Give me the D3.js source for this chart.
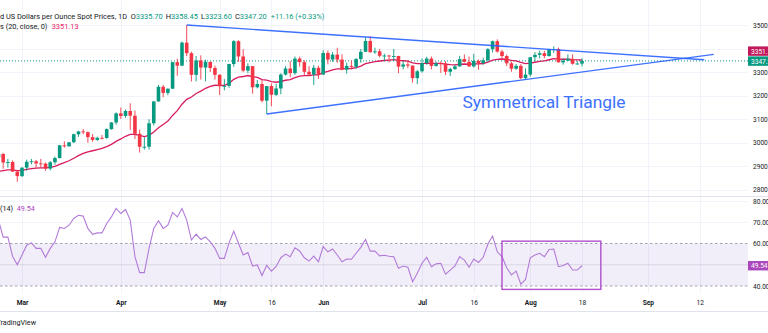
<!DOCTYPE html>
<html><head><meta charset="utf-8">
<script src="https://cdn.jsdelivr.net/npm/d3@7"></script>
<style>html,body{margin:0;padding:0;background:#fff;overflow:hidden}svg{display:block}text{font-family:Roboto,"Noto Sans",sans-serif}</style>
</head><body><svg id="c" width="768" height="333"></svg>
<script>
// ---- DATA (daily XAU/USD, first bar = Feb 24, index -5; Mar 3 = index 0) ----
const firstIndex = -5;
const opens = [
2936,2951,2915,2917,2876,2857,2893,2918,2920,2911,
2910,2889,2916,2934,2988,2984,3001,3035,3047,3044,
3023,3011,3020,3019,3057,3085,3124,3113,3134,3114,
3037,2982,2982,3082,3175,3237,3211,3229,3342,3327,
3425,3380,3288,3349,3319,3343,3317,3288,3239,3241,
3334,3431,3366,3306,3325,3235,3249,3178,3240,3203,
3230,3289,3315,3295,3357,3342,3301,3289,3318,3289,
3381,3353,3374,3353,3310,3326,3322,3355,3386,3432,
3384,3388,3369,3370,3368,3368,3323,3332,3327,3274,
3303,3338,3357,3326,3337,3336,3301,3313,3324,3355,
3343,3324,3347,3338,3350,3397,3431,3387,3368,3337,
3314,3326,3274,3289,3363,3373,3380,3368,3397,3398,
3341,3348,3356,3335,3335.70];
const highs = [
2956,2956,2930,2924,2882,2894,2927,2930,2926,2930,
2915,2921,2940,2990,3005,3001,3038,3050,3057,3047,
3036,3025,3032,3060,3087,3128,3149,3140,3167,3136,
3055,3023,3099,3175,3245,3245,3230,3343,3357,3430,
3500,3386,3368,3371,3352,3344,3327,3291,3270,3335,
3436,3435,3397,3337,3325,3266,3265,3240,3252,3250,
3295,3325,3346,3366,3365,3350,3325,3330,3326,3393,
3392,3385,3403,3375,3340,3349,3360,3398,3446,3452,
3403,3398,3378,3373,3398,3369,3346,3350,3329,3309,
3358,3365,3366,3343,3345,3346,3318,3330,3369,3375,
3366,3377,3353,3361,3402,3434,3439,3394,3374,3345,
3334,3334,3315,3363,3385,3391,3390,3398,3409,3404,
3358,3375,3375,3346,3358.45];
const lows = [
2930,2888,2893,2875,2833,2853,2880,2907,2893,2894,
2880,2881,2905,2932,2978,2982,2998,3024,3035,2999,
3003,3007,3013,3016,3054,3076,3100,3105,3054,3015,
2957,2970,2970,3073,3173,3193,3201,3228,3284,3325,
3367,3260,3260,3268,3260,3300,3268,3202,3222,3233,
3322,3343,3299,3295,3208,3230,3171,3121,3154,3198,
3205,3285,3278,3288,3323,3285,3285,3245,3271,3287,
3333,3343,3339,3307,3293,3312,3314,3340,3385,3383,
3377,3362,3347,3341,3347,3295,3312,3316,3255,3248,
3297,3331,3311,3323,3296,3287,3283,3308,3322,3341,
3321,3319,3310,3331,3344,3383,3382,3351,3325,3301,
3309,3268,3268,3280,3345,3358,3358,3365,3381,3341,
3331,3347,3331,3331,3323.60];
const closes = [
2951,2915,2917,2876,2857,2893,2918,2920,2911,2910,
2889,2916,2934,2988,2984,3001,3035,3047,3044,3023,
3011,3020,3019,3057,3085,3124,3113,3134,3114,3037,
2982,2982,3082,3175,3237,3211,3229,3342,3327,3425,
3380,3288,3349,3319,3343,3317,3288,3239,3241,3334,
3431,3366,3306,3325,3235,3249,3178,3240,3203,3230,
3289,3315,3295,3357,3342,3301,3289,3318,3289,3381,
3353,3374,3353,3310,3326,3322,3355,3386,3432,3384,
3388,3369,3370,3368,3368,3323,3332,3327,3274,3303,
3338,3357,3326,3337,3336,3301,3313,3324,3355,3343,
3324,3347,3338,3350,3397,3431,3387,3368,3337,3314,
3326,3274,3289,3363,3373,3380,3368,3397,3398,3341,
3348,3356,3335,3336,3347.20];
// 20-period moving average line
const maValues = [
2876.7,2880.3,2883.8,2883.1,2880.6,2881.8,2885.2,2888.5,2890.6,2892.4,
2892.1,2894.4,2898.2,2906.7,2914.1,2922.4,2933.1,2943.9,2953.4,2960.0,
2964.9,2970.1,2974.8,2982.6,2992.3,3004.8,3015.1,3026.4,3034.7,3034.9,
3029.9,3025.3,3030.7,3044.4,3062.7,3076.8,3091.3,3115.2,3135.4,3163.0,
3183.7,3193.6,3208.4,3218.9,3230.7,3238.9,3243.6,3243.2,3243.0,3251.7,
3268.8,3278.1,3280.8,3285.0,3280.2,3277.2,3267.8,3265.2,3259.3,3256.5,
3259.6,3264.9,3267.8,3276.3,3282.6,3284.4,3284.8,3288.0,3288.1,3296.9,
3302.2,3309.0,3313.2,3312.9,3314.1,3314.9,3318.7,3325.1,3335.3,3339.9,
3344.5,3346.8,3349.0,3350.8,3352.4,3349.6,3347.9,3345.9,3339.1,3335.7,
3335.9,3337.9,3336.8,3336.8,3336.7,3333.3,3331.4,3330.7,3333.0,3334.0,
3333.0,3334.3,3334.7,3336.2,3342.0,3350.5,3354.0,3355.3,3353.6,3349.8,
3347.5,3340.5,3335.6,3338.2,3341.5,3345.2,3347.4,3352.1,3356.5,3355.0,
3354.3,3354.5,3352.6,3351.4,3351.13];
const rsiValues = [
71,63,63,54,50,54.6,59.2,60.3,57.7,57.7,
53.5,57.7,60.8,67.6,67.1,68.6,71.8,73.3,72.9,67.1,
64.3,65,65,69.4,72.5,76.5,74.1,76,71,53.8,
46.3,46.3,57.7,67.1,70.7,67.1,68.6,74.6,72.5,76.5,
71,61.6,64.4,61.9,63.1,60.8,57.7,53,53,60.3,
65.8,60.1,54.6,55.7,49.4,49.9,44.9,49.7,47,49.2,
53.3,55,53.8,58,56.5,53.3,51.7,54.1,51.4,58.5,
56.1,57.4,54.6,51.4,52.7,52.6,55.4,58.2,61.9,56.4,
56.4,54.2,54.5,54,53.8,48.3,49.4,48.8,42,46,
50.7,53.5,49.1,50.4,50.7,45.6,47.5,49.4,53.8,52.2,
48.8,52.7,51.1,53.5,59.6,63.5,56.1,53.8,48.6,45.2,
47,40.8,43.1,53.3,54.6,55.4,53.8,57.2,57.4,49.1,
49.6,50.7,47.5,47.5,49.54];
const priceTicks = [2800,2900,3000,3100,3200,3300,3400,3500];
const rsiTicks = [40,50,60,70,80];
const timeTickLabels = ["Mar","Apr","May","16","Jun","Jul","16","Aug","18","Sep","12"];
const timeTickIndex  = [0,21,42,53,64,85,96,108,119,133,144];
const timeTickBold   = [true,true,true,false,true,true,false,true,false,true,false];
const trendUpper = [[35,3500],[145,3352]];
const trendLower = [[52,3121],[147,3375]];
const triangleLabel = {text:"Symmetrical Triangle", i:93.6, p:3148};
const rsiBox = {i0:102, i1:123, hi:61.1, lo:38.4};
const headerTitle = "d US Dollars per Ounce Spot Prices, 1D";
const ohlcLabels = ["O","H","L","C"];
const ohlcValues = ["3335.70","3358.45","3323.60","3347.20"];
const changeText = "+11.16 (+0.33%)";
const maTitle = "s (20, close, 0)", maLastText = "3351.13";
const rsiTitle = "(14)", rsiLastText = "49.54";

// ---- LAYOUT ----
const W = 768, axisX = 748;
const C_UP = "#089981", C_DN = "#f23645", C_TXT = "#131722", C_MA = "#d81b60",
      C_RSI = "#b27ad8", C_BLUE = "#2962ff", C_GRID = "#f0f3fa";
const svg = d3.select("#c");
svg.append("rect").attr("width",W).attr("height",333).attr("fill","#fff");

const x = d3.scaleLinear().domain([0,119]).range([22,582]);
const y = d3.scaleLinear().domain([2800,3500]).range([189.5,25]);
const ry = d3.scaleLinear().domain([40,80]).range([286,201]);
const idx = d3.range(opens.length).map(k => k + firstIndex);
const lastK = closes.length - 1;

const defs = svg.append("defs");
defs.append("clipPath").attr("id","mainClip").append("rect").attr("x",0).attr("y",0).attr("width",axisX).attr("height",196);
defs.append("clipPath").attr("id","rsiClip").append("rect").attr("x",0).attr("y",197).attr("width",axisX).attr("height",96);

// grid
const grid = svg.append("g");
grid.selectAll(".hg").data(priceTicks).join("line")
  .attr("x1",0).attr("x2",axisX).attr("y1",d=>Math.round(y(d))+0.5).attr("y2",d=>Math.round(y(d))+0.5)
  .attr("stroke",C_GRID);
grid.selectAll(".vg").data(timeTickIndex).join("line")
  .attr("x1",d=>Math.round(x(d))+0.5).attr("x2",d=>Math.round(x(d))+0.5).attr("y1",0).attr("y2",293)
  .attr("stroke",C_GRID);
grid.selectAll(".rg").data([70,80]).join("line")
  .attr("x1",0).attr("x2",axisX).attr("y1",d=>Math.round(ry(d))+0.5).attr("y2",d=>Math.round(ry(d))+0.5)
  .attr("stroke",C_GRID);

// pane separators
svg.append("line").attr("x1",0).attr("x2",W).attr("y1",196.5).attr("y2",196.5).attr("stroke","#e0e3eb");
svg.append("line").attr("x1",0).attr("x2",W).attr("y1",311.5).attr("y2",311.5).attr("stroke","#e0e3eb");

// main pane
const main = svg.append("g").attr("clip-path","url(#mainClip)");
main.append("line").attr("x1",0).attr("x2",axisX).attr("y1",y(closes[lastK])).attr("y2",y(closes[lastK]))
  .attr("stroke",C_UP).attr("stroke-dasharray","1,2").attr("stroke-width",1);
main.append("path").datum(idx).attr("fill","none").attr("stroke",C_MA).attr("stroke-width",1.3)
  .attr("d", d3.line().x(i=>x(i)).y((i,k)=>y(maValues[k])));
const cg = main.append("g");
idx.forEach((i,k)=>{
  const up = closes[k] >= opens[k];
  const col = up ? C_UP : C_DN;
  const cx = x(i);
  cg.append("line").attr("x1",cx).attr("x2",cx).attr("y1",y(highs[k])).attr("y2",y(lows[k]))
    .attr("stroke",col).attr("stroke-width",0.9);
  const top = y(Math.max(opens[k],closes[k])), bot = y(Math.min(opens[k],closes[k]));
  cg.append("rect").attr("x",cx-1.8).attr("width",3.6).attr("y",top).attr("height",Math.max(0.9,bot-top)).attr("fill",col);
});
[trendUpper,trendLower].forEach(t=>{
  main.append("line").attr("x1",x(t[0][0])).attr("y1",y(t[0][1])).attr("x2",x(t[1][0])).attr("y2",y(t[1][1]))
    .attr("stroke",C_BLUE).attr("stroke-width",1.4).attr("opacity",0.9);
});
main.append("text").attr("x",x(triangleLabel.i)).attr("y",y(triangleLabel.p)).text(triangleLabel.text)
  .attr("fill",C_BLUE).attr("font-size",17.4).attr("opacity",0.9);

// header legend
const hdr = svg.append("g").attr("font-size",7.4).attr("fill",C_TXT);
hdr.append("text").attr("x",0).attr("y",18.5).text(headerTitle);
const ohlcX = [130.7,165.7,201,235];
ohlcLabels.forEach((l,k)=>{
  const t = hdr.append("text").attr("x",ohlcX[k]).attr("y",18.5);
  t.append("tspan").text(l);
  t.append("tspan").attr("fill",C_UP).text(ohlcValues[k]);
});
hdr.append("text").attr("x",270.7).attr("y",18.5).attr("fill",C_UP).text(changeText);
hdr.append("text").attr("x",0).attr("y",29).text(maTitle);
hdr.append("text").attr("x",51.7).attr("y",29).attr("fill","#e91e63").text(maLastText);

// badges on the right axis
const lastY = y(closes[lastK]) + 0.2;
const maBadgeY = lastY - 10;
const rsiBadgeY = ry(rsiValues[lastK]);
const badgeYs = [lastY, maBadgeY, rsiBadgeY];
const free = v => badgeYs.every(b => Math.abs(b - v) > 7);

// price axis (labels hidden under badges are dropped, as in the reference)
const pa = svg.append("g").attr("transform",`translate(${axisX},0)`)
  .call(d3.axisRight(y).tickValues(priceTicks.filter(t=>free(y(t)))).tickFormat(d3.format(".2f")).tickSize(0).tickPadding(5));
pa.select(".domain").remove();
pa.selectAll("text").attr("font-size",6.6).attr("fill",C_TXT).attr("font-family","Roboto, sans-serif");

function badge(yc, fill, txt){
  svg.append("rect").attr("x",axisX).attr("y",yc-4.7).attr("width",W-axisX).attr("height",9.4).attr("fill",fill);
  svg.append("text").attr("x",axisX+3).attr("y",yc+2.4).attr("fill","#fff").attr("font-size",6.6).text(txt);
}
badge(lastY, C_UP, ohlcValues[3]);
badge(maBadgeY, "#c2185b", maLastText);

// RSI pane
const rp = svg.append("g").attr("clip-path","url(#rsiClip)");
rp.append("rect").attr("x",0).attr("width",axisX).attr("y",ry(60)).attr("height",ry(40)-ry(60)).attr("fill","rgba(126,87,194,0.1)");
rp.append("line").attr("x1",0).attr("x2",axisX).attr("y1",ry(50)).attr("y2",ry(50)).attr("stroke","rgba(149,152,161,0.25)");
[60,40].forEach(v=>{
  rp.append("line").attr("x1",0).attr("x2",axisX).attr("y1",ry(v)).attr("y2",ry(v))
    .attr("stroke","#a3a6af").attr("stroke-dasharray","2.5,2.5").attr("stroke-width",1);
});
rp.append("path").datum(idx).attr("fill","none").attr("stroke",C_RSI).attr("stroke-width",1.1)
  .attr("d", d3.line().x(i=>x(i)).y((i,k)=>ry(rsiValues[k])));
svg.append("rect").attr("x",x(rsiBox.i0)).attr("y",ry(rsiBox.hi)).attr("width",x(rsiBox.i1)-x(rsiBox.i0))
  .attr("height",ry(rsiBox.lo)-ry(rsiBox.hi)).attr("fill","none").attr("stroke","#ae4fcb").attr("stroke-width",1.4);

const rl = svg.append("g").attr("font-size",7.2).attr("fill",C_TXT);
const rt = rl.append("text").attr("x",0).attr("y",210.7);
rt.append("tspan").text(rsiTitle);
rt.append("tspan").attr("x",16.7).attr("fill","#ab47bc").text(rsiLastText);

const ra = svg.append("g").attr("transform",`translate(${axisX},0)`)
  .call(d3.axisRight(ry).tickValues(rsiTicks.filter(t=>free(ry(t)))).tickFormat(d3.format(".2f")).tickSize(0).tickPadding(5));
ra.select(".domain").remove();
ra.selectAll("text").attr("font-size",6.6).attr("fill",C_TXT).attr("font-family","Roboto, sans-serif");
badge(rsiBadgeY, "#ab47bc", rsiLastText);

// time axis
const ta = svg.append("g").attr("transform","translate(0,297.5)")
  .call(d3.axisBottom(x).tickValues(timeTickIndex).tickFormat((d,k)=>timeTickLabels[k]).tickSize(0).tickPadding(3));
ta.select(".domain").remove();
ta.selectAll("text").attr("font-size",6.6).attr("fill",C_TXT).attr("font-family","Roboto, sans-serif")
  .attr("font-weight",(d,k)=>timeTickBold[k]?"bold":"normal");

// footer
svg.append("text").attr("x",-3.5).attr("y",325).attr("font-size",7.2).attr("fill",C_TXT).text("TradingView");
</script></body></html>
